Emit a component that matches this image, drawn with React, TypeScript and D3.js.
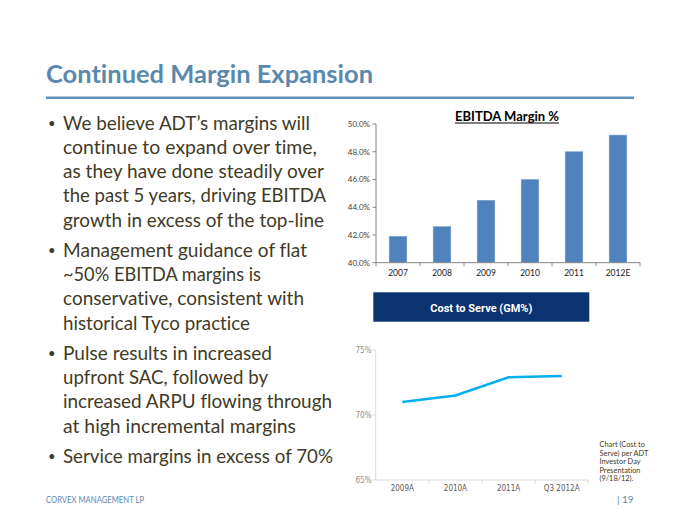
import React from "react";
import * as d3 from "d3";

// ---------- data ----------
const ebitdaYears = ["2007", "2008", "2009", "2010", "2011", "2012E"];
const ebitdaMargin = [41.9, 42.6, 44.5, 46.0, 48.0, 49.2];
const ebitdaTicks = [40, 42, 44, 46, 48, 50];

const gmPeriods = ["2009A", "2010A", "2011A", "Q3 2012A"];
const gmValues = [71.0, 71.5, 72.9, 73.0];
const gmTicks = [65, 70, 75];

const titleText = "Continued Margin Expansion";
const bullets: string[][] = [
  [
    "We believe ADT\u2019s margins will",
    "continue to expand over time,",
    "as they have done steadily over",
    "the past 5 years, driving EBITDA",
    "growth in excess of the top-line",
  ],
  [
    "Management guidance of flat",
    "~50% EBITDA margins is",
    "conservative, consistent with",
    "historical Tyco practice",
  ],
  [
    "Pulse results in increased",
    "upfront SAC, followed by",
    "increased ARPU flowing through",
    "at high incremental margins",
  ],
  ["Service margins in excess of 70%"],
];
const bulletWidths: number[][] = [
  [247, 254, 261, 263, 261],
  [244, 198, 241, 187],
  [209, 205, 269, 233],
  [270],
];
const sourceNote = [
  "Chart (Cost to",
  "Serve) per ADT",
  "Investor Day",
  "Presentation",
  "(9/18/12).",
];

// ---------- layout ----------
const W = 680;
const H = 525;
const bodyFont = "Lato, 'Open Sans', sans-serif";
const textColor = "#3f3b27";
const steel = "#5b88ad";

export default function App() {
  // EBITDA bar chart
  const bx = d3.scaleBand<string>().domain(ebitdaYears).range([376, 640]).padding(0);
  const by = d3.scaleLinear().domain([40, 50]).range([262.7, 124]);
  const barW = bx.bandwidth() * 0.4;

  // Cost to serve line chart
  const lx = d3.scaleBand<string>().domain(gmPeriods).range([375.7, 588.3]).padding(0);
  const ly = d3.scaleLinear().domain([65, 75]).range([480, 350]);
  const line = d3
    .line<number>()
    .x((_, i) => (lx(gmPeriods[i]) as number) + lx.bandwidth() / 2)
    .y((v) => ly(v));

  // bullet layout
  const lineGap = 24.3;
  const paraGap = 30;
  let y = 129.5;
  const bulletEls: React.ReactNode[] = [];
  bullets.forEach((para, pi) => {
    if (pi > 0) y += paraGap - lineGap;
    para.forEach((ln, li) => {
      if (li === 0) {
        bulletEls.push(
          <text key={`b${pi}`} x={48} y={y - 1.5} fontSize={13} fill={textColor} fontFamily={bodyFont}>
            {"\u2022"}
          </text>
        );
      }
      bulletEls.push(
        <text
          key={`l${pi}-${li}`}
          x={63}
          y={y}
          fontSize={19}
          fill={textColor}
          fontFamily={bodyFont}
          textLength={bulletWidths[pi][li]}
          lengthAdjust="spacingAndGlyphs"
        >
          {ln}
        </text>
      );
      y += lineGap;
    });
  });

  const fmt1 = (v: number) => `${v.toFixed(1)}%`;

  return (
    <svg
      width={W}
      height={H}
      style={{
        position: "absolute",
        left: 0,
        top: 0,
        background: "#fff",
        fontVariantLigatures: "none",
        fontFeatureSettings: "'liga' 0, 'clig' 0",
      }}
    >
      <rect x={0} y={0} width={W} height={H} fill="#fff" />
      {/* title */}
      <text
        x={46}
        y={83}
        fontSize={25}
        fontWeight={700}
        fill={steel}
        fontFamily={bodyFont}
        textLength={327}
        lengthAdjust="spacingAndGlyphs"
      >
        {titleText}
      </text>
      <line x1={46} x2={634} y1={97.7} y2={97.7} stroke="#5f8fb4" strokeWidth={2.5} />

      {bulletEls}

      {/* EBITDA chart */}
      <text
        x={507}
        y={120.5}
        textAnchor="middle"
        fontSize={14}
        fontWeight={700}
        fill="#000"
        fontFamily={bodyFont}
        textLength={104}
        lengthAdjust="spacingAndGlyphs"
      >
        EBITDA Margin %
      </text>
      <line x1={455} x2={559} y1={123} y2={123} stroke="#000" strokeWidth={1.2} />
      {ebitdaYears.map((yr, i) => (
        <rect
          key={yr}
          x={(bx(yr) as number) + (bx.bandwidth() - barW) / 2}
          y={by(ebitdaMargin[i])}
          width={barW}
          height={by(40) - by(ebitdaMargin[i])}
          fill="#4f81bd"
          stroke="#7ea1cf"
          strokeWidth={0.6}
        />
      ))}
      <line x1={376} x2={376} y1={by(50)} y2={by(40)} stroke="#868686" strokeWidth={1} />
      <line x1={376} x2={640} y1={by(40)} y2={by(40)} stroke="#868686" strokeWidth={1} />
      {ebitdaTicks.map((t) => (
        <g key={t}>
          <line x1={372.5} x2={376} y1={by(t)} y2={by(t)} stroke="#868686" />
          <text
            x={370}
            y={by(t) + 3}
            textAnchor="end"
            fontSize={8}
            fill="#404040"
            fontFamily={bodyFont}
          >
            {fmt1(t)}
          </text>
        </g>
      ))}
      {ebitdaYears.map((yr) => (
        <g key={`t${yr}`}>
          <line
            x1={(bx(yr) as number) + bx.bandwidth()}
            x2={(bx(yr) as number) + bx.bandwidth()}
            y1={by(40)}
            y2={by(40) + 3.5}
            stroke="#868686"
          />
          <text
            x={(bx(yr) as number) + bx.bandwidth() / 2}
            y={276}
            textAnchor="middle"
            fontSize={8.5}
            fill="#222"
            fontFamily={bodyFont}
          >
            {yr}
          </text>
        </g>
      ))}
      <line x1={376} x2={376} y1={by(40)} y2={by(40) + 3.5} stroke="#868686" />

      {/* Cost to serve header */}
      <rect x={373.3} y={292.3} width={216} height={29.4} fill="#0b3370" />
      <text
        x={481.3}
        y={311.5}
        textAnchor="middle"
        fontSize={11}
        fontWeight={700}
        fill="#fff"
        fontFamily="Roboto, Arial, sans-serif"
      >
        Cost to Serve (GM%)
      </text>

      {/* line chart */}
      <line x1={375.7} x2={375.7} y1={ly(75)} y2={ly(65)} stroke="#d9d9d9" strokeWidth={1} />
      <line x1={375.7} x2={588.3} y1={ly(65)} y2={ly(65)} stroke="#d9d9d9" strokeWidth={1} />
      {gmTicks.map((t) => (
        <g key={`g${t}`}>
          <line x1={372.5} x2={375.7} y1={ly(t)} y2={ly(t)} stroke="#d9d9d9" />
          <text
            x={371.5}
            y={ly(t) + 3}
            textAnchor="end"
            fontSize={8}
            fill="#8c8c8c"
            fontFamily="'DejaVu Sans Condensed', 'Liberation Sans', sans-serif"
          >
            {`${t}%`}
          </text>
        </g>
      ))}
      {gmPeriods.map((p) => (
        <g key={p}>
          <line
            x1={(lx(p) as number) + lx.bandwidth()}
            x2={(lx(p) as number) + lx.bandwidth()}
            y1={ly(65)}
            y2={ly(65) + 3.5}
            stroke="#d9d9d9"
          />
          <text
            x={(lx(p) as number) + lx.bandwidth() / 2}
            y={490.5}
            textAnchor="middle"
            fontSize={8}
            fill="#5a5a5a"
            fontFamily="'DejaVu Sans Condensed', 'Liberation Sans', sans-serif"
          >
            {p}
          </text>
        </g>
      ))}
      <path d={line(gmValues) || ""} fill="none" stroke="#00b0f0" strokeWidth={2.4} />

      {/* source note */}
      {sourceNote.map((s, i) => (
        <text
          key={s}
          x={599.5}
          y={447 + i * 8.6}
          fontSize={7.4}
          fill={textColor}
          fontFamily={bodyFont}
        >
          {s}
        </text>
      ))}

      {/* footer */}
      <text
        x={46}
        y={503}
        fontSize={10}
        fill={steel}
        fontFamily={bodyFont}
        textLength={98}
        lengthAdjust="spacingAndGlyphs"
      >
        CORVEX MANAGEMENT LP
      </text>
      <text x={617} y={503} fontSize={10} fill={steel} fontFamily={bodyFont}>
        {"|  19"}
      </text>
    </svg>
  );
}
